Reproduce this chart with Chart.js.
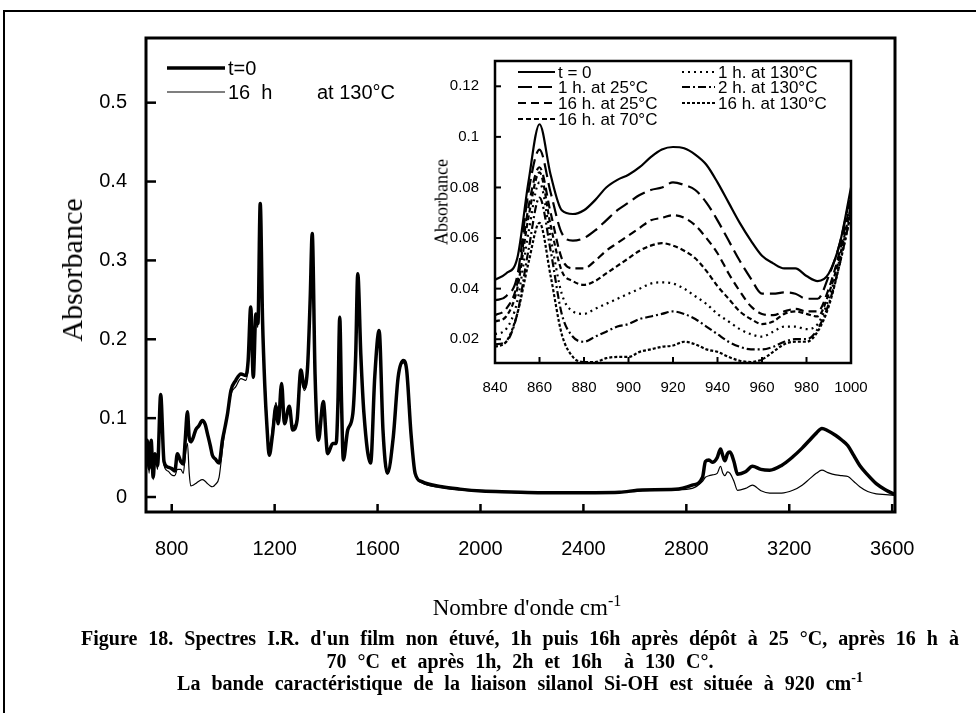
<!DOCTYPE html>
<html>
<head>
<meta charset="utf-8">
<script src="https://cdn.jsdelivr.net/npm/chart.js@4.4.0/dist/chart.umd.min.js"></script>
<style>
    body { margin: 0; background: #fff; }
    #page { position: relative; width: 976px; height: 713px; overflow: hidden; background: #fff; }
    #frame { position: absolute; left: 3px; top: 10px; width: 990px; height: 720px; border-left: 2px solid #000; border-top: 2px solid #000; }
    #mainChart { position: absolute; left: 0; top: 0; }
    #insetChart { position: absolute; left: 430px; top: 40px; }
    .serif { font-family: "Liberation Serif", "Times New Roman", serif; color: #000; }
    #yTitle { position: absolute; left: 72px; top: 270px; font-size: 30px; transform: translate(-50%, -50%) rotate(-90deg); white-space: nowrap; }
    #insetYTitle { position: absolute; left: 442px; top: 202px; font-size: 18px; transform: translate(-50%, -50%) rotate(-90deg); white-space: nowrap; }
    #xTitle { position: absolute; left: 527px; top: 608px; font-size: 23px; transform: translate(-50%, -50%); white-space: nowrap; }
    #xTitle sup, #caption sup { font-size: 70%; vertical-align: 0.55em; line-height: 0; }
    #caption { position: absolute; left: 20px; width: 1000px; top: 627px; text-align: center; font-size: 20px; font-weight: bold; line-height: 22.5px; word-spacing: 6px; }
</style>
</head>
<body>
<div id="page">
    <div id="frame"></div>
    <canvas id="mainChart" width="976" height="713"></canvas>
    <canvas id="insetChart" width="460" height="360"></canvas>
    <div id="yTitle" class="serif">Absorbance</div>
    <div id="insetYTitle" class="serif">Absorbance</div>
    <div id="xTitle" class="serif">Nombre d'onde cm<sup>-1</sup></div>
    <div id="caption" class="serif">
        <div>Figure 18. Spectres I.R. d'un film non étuvé, 1h puis 16h après dépôt à 25 °C, après 16 h à</div>
        <div>70 °C et après 1h, 2h et 16h &nbsp;à 130 C°.</div>
        <div>La bande caractéristique de la liaison silanol Si-OH est située à 920 cm<sup>-1</sup></div>
    </div>
</div>
<script>
// spectre complet
const mainWavenumbers = [700, 705, 712, 720, 728, 735, 745, 757, 770, 785, 800, 812, 822, 835, 845, 852, 861, 868, 874, 883,
    893, 905, 919, 930, 939, 950, 958, 970, 984, 997, 1008, 1017, 1030, 1049, 1069, 1088, 1097, 1107, 1117, 1127,
    1135, 1144, 1153, 1162, 1170, 1179, 1192, 1205, 1214, 1227, 1238, 1257, 1270, 1287, 1302, 1315, 1328, 1338, 1346, 1357,
    1370, 1389, 1406, 1426, 1439, 1446, 1453, 1460, 1467, 1484, 1504, 1515, 1523, 1535, 1547, 1573, 1589, 1606, 1621, 1638,
    1661, 1680, 1700, 1713, 1730, 1746, 1772, 1850, 1920, 2005, 2120, 2239, 2350, 2446, 2540, 2629, 2757, 2823, 2863, 2874,
    2888, 2901, 2920, 2933, 2942, 2950, 2960, 2970, 2985, 2999, 3030, 3057, 3090, 3124, 3170, 3214, 3250, 3279, 3305, 3327,
    3350, 3381, 3405, 3428, 3450, 3474, 3505, 3538, 3575, 3611];

const absT0 = [0.045, 0.072, 0.036, 0.072, 0.025, 0.055, 0.040, 0.130, 0.045, 0.038, 0.036, 0.033, 0.055, 0.045, 0.042, 0.070, 0.108, 0.075, 0.070, 0.075,
    0.085, 0.090, 0.097, 0.092, 0.080, 0.065, 0.053, 0.048, 0.043, 0.072, 0.090, 0.106, 0.135, 0.148, 0.156, 0.154, 0.173, 0.241, 0.152, 0.232,
    0.220, 0.372, 0.224, 0.139, 0.090, 0.053, 0.080, 0.115, 0.093, 0.144, 0.093, 0.115, 0.085, 0.097, 0.161, 0.139, 0.165, 0.250, 0.334, 0.156,
    0.072, 0.121, 0.055, 0.068, 0.068, 0.120, 0.228, 0.120, 0.047, 0.085, 0.106, 0.180, 0.283, 0.180, 0.106, 0.043, 0.152, 0.211, 0.085, 0.030,
    0.076, 0.152, 0.173, 0.161, 0.080, 0.030, 0.0195, 0.013, 0.010, 0.0076, 0.0065, 0.0055, 0.0055, 0.0055, 0.006, 0.009, 0.0097, 0.015, 0.025, 0.045,
    0.047, 0.044, 0.050, 0.061, 0.052, 0.046, 0.055, 0.057, 0.045, 0.029, 0.032, 0.039, 0.035, 0.034, 0.040, 0.051, 0.062, 0.072, 0.081, 0.087,
    0.084, 0.078, 0.072, 0.065, 0.053, 0.040, 0.028, 0.017, 0.009, 0.003];

const abs16h130 = [0.040, 0.065, 0.030, 0.065, 0.022, 0.050, 0.035, 0.120, 0.040, 0.033, 0.028, 0.027, 0.035, 0.035, 0.030, 0.050, 0.068, 0.030, 0.014, 0.015,
    0.017, 0.020, 0.022, 0.020, 0.017, 0.014, 0.013, 0.016, 0.025, 0.060, 0.088, 0.104, 0.130, 0.140, 0.150, 0.148, 0.165, 0.235, 0.150, 0.225,
    0.215, 0.360, 0.230, 0.150, 0.100, 0.060, 0.090, 0.120, 0.100, 0.140, 0.100, 0.110, 0.090, 0.100, 0.155, 0.135, 0.160, 0.250, 0.330, 0.156,
    0.072, 0.120, 0.055, 0.068, 0.070, 0.120, 0.225, 0.120, 0.048, 0.085, 0.106, 0.180, 0.280, 0.180, 0.106, 0.043, 0.150, 0.208, 0.085, 0.030,
    0.076, 0.150, 0.170, 0.160, 0.080, 0.030, 0.018, 0.012, 0.009, 0.007, 0.006, 0.005, 0.005, 0.005, 0.0055, 0.008, 0.009, 0.011, 0.020, 0.025,
    0.027, 0.028, 0.030, 0.039, 0.030, 0.027, 0.032, 0.030, 0.020, 0.0085, 0.011, 0.015, 0.008, 0.005, 0.005, 0.0085, 0.015, 0.023, 0.030, 0.034,
    0.031, 0.028, 0.027, 0.026, 0.020, 0.013, 0.007, 0.004, 0.003, 0.002];

const mainLabels = ['t=0', '16  h        at 130°C'];
const mainXTicks = [800, 1200, 1600, 2000, 2400, 2800, 3200, 3600];
const mainYTicks = [0, 0.1, 0.2, 0.3, 0.4, 0.5];
const mainYTickLabels = ['0', '0.1', '0.2', '0.3', '0.4', '0.5'];

// zoom 840-1000
const insetWavenumbers = [840, 845, 850, 855, 860, 865, 870, 875, 880, 885, 890, 895, 900, 905, 910, 915, 920,
    925, 930, 935, 940, 945, 950, 955, 960, 965, 970, 975, 980, 985, 990, 995, 1000];
const insetLabels = ['t = 0', '1 h. at 25°C', '16 h. at 25°C', '16 h. at 70°C', '1 h. at 130°C', '2 h. at 130°C', '16 h. at 130°C'];
const insetT0 = [0.0435, 0.046, 0.052, 0.082, 0.105, 0.085, 0.071, 0.0695, 0.071, 0.075, 0.080, 0.083, 0.085, 0.088, 0.092, 0.095, 0.096,
    0.0955, 0.093, 0.089, 0.082, 0.074, 0.066, 0.059, 0.053, 0.050, 0.048, 0.048, 0.045, 0.043, 0.046, 0.058, 0.080];
const inset1h25 = [0.0353, 0.037, 0.045, 0.078, 0.095, 0.078, 0.062, 0.059, 0.060, 0.063, 0.067, 0.071, 0.074, 0.077, 0.079, 0.080, 0.082,
    0.081, 0.079, 0.074, 0.067, 0.059, 0.051, 0.044, 0.038, 0.038, 0.0385, 0.038, 0.036, 0.036, 0.045, 0.058, 0.078];
const inset16h25 = [0.0295, 0.032, 0.042, 0.072, 0.088, 0.070, 0.052, 0.048, 0.048, 0.051, 0.055, 0.058, 0.061, 0.064, 0.067, 0.068, 0.069,
    0.068, 0.065, 0.060, 0.054, 0.046, 0.039, 0.033, 0.030, 0.0295, 0.031, 0.032, 0.031, 0.031, 0.040, 0.055, 0.075];
const inset16h70 = [0.027, 0.029, 0.040, 0.068, 0.086, 0.065, 0.047, 0.043, 0.0415, 0.043, 0.046, 0.049, 0.052, 0.055, 0.057, 0.058, 0.057,
    0.055, 0.052, 0.047, 0.041, 0.036, 0.031, 0.028, 0.026, 0.027, 0.030, 0.031, 0.030, 0.029, 0.038, 0.053, 0.073];
const inset1h130 = [0.022, 0.024, 0.035, 0.062, 0.082, 0.060, 0.038, 0.031, 0.030, 0.032, 0.034, 0.036, 0.038, 0.040, 0.042, 0.0425, 0.042,
    0.040, 0.037, 0.034, 0.030, 0.027, 0.024, 0.022, 0.021, 0.023, 0.025, 0.025, 0.024, 0.026, 0.036, 0.052, 0.072];
const inset2h130 = [0.018, 0.019, 0.030, 0.055, 0.076, 0.055, 0.030, 0.021, 0.019, 0.021, 0.023, 0.025, 0.026, 0.028, 0.029, 0.030, 0.031,
    0.030, 0.028, 0.025, 0.022, 0.019, 0.017, 0.016, 0.016, 0.017, 0.019, 0.020, 0.020, 0.024, 0.034, 0.050, 0.070];
const inset16h130 = [0.017, 0.019, 0.030, 0.050, 0.066, 0.045, 0.022, 0.013, 0.011, 0.011, 0.0125, 0.013, 0.013, 0.015, 0.016, 0.017, 0.0175,
    0.019, 0.018, 0.016, 0.015, 0.013, 0.0115, 0.011, 0.012, 0.015, 0.018, 0.019, 0.019, 0.023, 0.033, 0.050, 0.070];
const insetXTicks = [840, 860, 880, 900, 920, 940, 960, 980, 1000];
const insetYTicks = [0.02, 0.04, 0.06, 0.08, 0.1, 0.12];
const insetYTickLabels = ['0.02', '0.04', '0.06', '0.08', '0.1', '0.12'];

const sansFont = '"Liberation Sans", Arial, Helvetica, sans-serif';

function toPoints(xs, ys) {
    return xs.map((x, i) => ({ x: x, y: ys[i] }));
}

function makeSeries(label, xs, ys, width, dash) {
    return {
        label: label,
        data: toPoints(xs, ys),
        borderColor: '#000',
        borderWidth: width,
        borderDash: dash,
        pointRadius: 0,
        fill: false,
        cubicInterpolationMode: 'monotone'
    };
}

// cadre + graduations vers l'intérieur
const boxPlugin = {
    id: 'boxPlugin',
    afterDraw(chart, args, opts) {
        const ctx = chart.ctx;
        const area = chart.chartArea;
        ctx.save();
        ctx.strokeStyle = '#000';
        ctx.lineWidth = opts.tickWidth;
        chart.scales.x.ticks.forEach(t => {
            const px = chart.scales.x.getPixelForValue(t.value);
            ctx.beginPath();
            ctx.moveTo(px, area.bottom);
            ctx.lineTo(px, area.bottom - opts.xTickLen);
            ctx.stroke();
        });
        chart.scales.y.ticks.forEach(t => {
            const py = chart.scales.y.getPixelForValue(t.value);
            ctx.beginPath();
            ctx.moveTo(area.left, py);
            ctx.lineTo(area.left + opts.yTickLen, py);
            ctx.stroke();
        });
        ctx.lineWidth = opts.borderWidth;
        ctx.strokeRect(area.left, area.top, area.right - area.left, area.bottom - area.top);
        ctx.restore();
    }
};

// légende maison dans la zone de tracé
const legendPlugin = {
    id: 'legendPlugin',
    afterDraw(chart, args, opts) {
        const ctx = chart.ctx;
        ctx.save();
        ctx.font = opts.font;
        ctx.fillStyle = '#000';
        ctx.strokeStyle = '#000';
        ctx.textBaseline = 'middle';
        opts.items.forEach(item => {
            const ds = chart.data.datasets[item.index];
            ctx.lineWidth = ds.borderWidth;
            ctx.setLineDash(ds.borderDash || []);
            ctx.beginPath();
            ctx.moveTo(item.x, item.y);
            ctx.lineTo(item.x + item.len, item.y);
            ctx.stroke();
            ctx.setLineDash([]);
            ctx.fillText(ds.label, item.x + item.len + 3, item.y + 1);
        });
        ctx.restore();
    }
};

function setTicks(values) {
    return scale => { scale.ticks = values.map(v => ({ value: v })); };
}

const mainCtx = document.getElementById('mainChart').getContext('2d');
const mainChart = new Chart(mainCtx, {
    type: 'line',
    data: {
        datasets: [
            makeSeries(mainLabels[0], mainWavenumbers, absT0, 3.5, []),
            makeSeries(mainLabels[1], mainWavenumbers, abs16h130, 1.2, [])
        ]
    },
    options: {
        responsive: false,
        animation: false,
        layout: { padding: { top: 38, right: 81, bottom: 141, left: 0 } },
        scales: {
            x: {
                type: 'linear',
                min: 700,
                max: 3611,
                afterBuildTicks: setTicks(mainXTicks),
                afterFit: scale => { scale.height = 60; },
                grid: { display: false },
                border: { display: false },
                ticks: {
                    color: '#000',
                    font: { family: sansFont, size: 20 },
                    padding: 17,
                    maxRotation: 0,
                    callback: value => String(value)
                }
            },
            y: {
                min: -0.019,
                max: 0.582,
                afterBuildTicks: setTicks(mainYTicks),
                afterFit: scale => { scale.width = 146; },
                grid: { display: false },
                border: { display: false },
                ticks: {
                    color: '#000',
                    font: { family: sansFont, size: 20 },
                    padding: 11,
                    callback: (value, index) => mainYTickLabels[index]
                }
            }
        },
        plugins: {
            legend: { display: false },
            tooltip: { enabled: false },
            boxPlugin: { tickWidth: 2.5, xTickLen: 8, yTickLen: 10, borderWidth: 3 },
            legendPlugin: {
                font: '20px ' + sansFont,
                items: [
                    { index: 0, x: 167, y: 68, len: 58 },
                    { index: 1, x: 167, y: 92, len: 58 }
                ]
            }
        }
    },
    plugins: [boxPlugin, legendPlugin]
});

const insetCtx = document.getElementById('insetChart').getContext('2d');
const insetChart = new Chart(insetCtx, {
    type: 'line',
    data: {
        datasets: [
            makeSeries(insetLabels[0], insetWavenumbers, insetT0, 2.2, []),
            makeSeries(insetLabels[1], insetWavenumbers, inset1h25, 2.2, [14, 6]),
            makeSeries(insetLabels[2], insetWavenumbers, inset16h25, 2.2, [8, 5]),
            makeSeries(insetLabels[3], insetWavenumbers, inset16h70, 2.2, [5, 3]),
            makeSeries(insetLabels[4], insetWavenumbers, inset1h130, 2.2, [2, 4]),
            makeSeries(insetLabels[5], insetWavenumbers, inset2h130, 2.2, [8, 3, 2, 3]),
            makeSeries(insetLabels[6], insetWavenumbers, inset16h130, 2.2, [3, 2])
        ]
    },
    options: {
        responsive: false,
        animation: false,
        layout: { padding: { top: 21, right: 39, bottom: 0, left: 0 } },
        scales: {
            x: {
                type: 'linear',
                min: 840,
                max: 1000,
                afterBuildTicks: setTicks(insetXTicks),
                afterFit: scale => { scale.height = 37; },
                grid: { display: false },
                border: { display: false },
                ticks: {
                    color: '#000',
                    font: { family: sansFont, size: 15 },
                    padding: 8,
                    maxRotation: 0,
                    callback: value => String(value)
                }
            },
            y: {
                min: 0.0106,
                max: 0.130,
                afterBuildTicks: setTicks(insetYTicks),
                afterFit: scale => { scale.width = 65; },
                grid: { display: false },
                border: { display: false },
                ticks: {
                    color: '#000',
                    font: { family: sansFont, size: 15 },
                    padding: 8,
                    callback: (value, index) => insetYTickLabels[index]
                }
            }
        },
        plugins: {
            legend: { display: false },
            tooltip: { enabled: false },
            boxPlugin: { tickWidth: 2, xTickLen: 6, yTickLen: 6, borderWidth: 2.5 },
            legendPlugin: {
                font: '17px ' + sansFont,
                items: [
                    { index: 0, x: 88, y: 32, len: 37 },
                    { index: 1, x: 88, y: 47, len: 37 },
                    { index: 2, x: 88, y: 63, len: 37 },
                    { index: 3, x: 88, y: 79, len: 37 },
                    { index: 4, x: 252, y: 32, len: 33 },
                    { index: 5, x: 252, y: 47, len: 33 },
                    { index: 6, x: 252, y: 63, len: 33 }
                ]
            }
        }
    },
    plugins: [boxPlugin, legendPlugin]
});
</script>
</body>
</html>
